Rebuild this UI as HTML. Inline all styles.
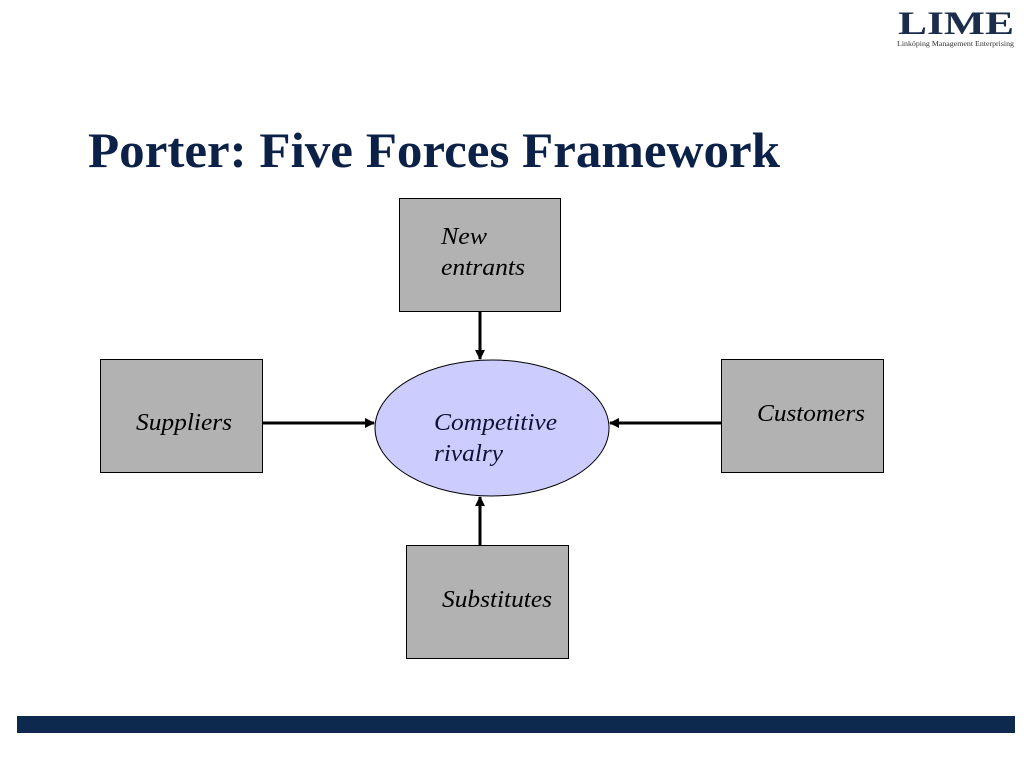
<!DOCTYPE html>
<html><head><meta charset="utf-8"><style>
body{margin:0;width:1024px;height:768px;background:#fff;overflow:hidden;position:relative;font-family:"Liberation Serif",serif}
</style></head><body>
<svg width="1024" height="768" style="position:absolute;left:0;top:0">
<defs><marker id="a" markerWidth="10" markerHeight="10" refX="9" refY="5" orient="auto" markerUnits="userSpaceOnUse"><path d="M0,0 L10,5 L0,10 z" fill="#000"/></marker></defs>
<text x="88" y="167" font-family="Liberation Serif,serif" font-weight="bold" font-size="50" fill="#0c2148" textLength="692" lengthAdjust="spacingAndGlyphs">Porter: Five Forces Framework</text>
<text x="898" y="34" font-family="Liberation Serif,serif" font-weight="bold" font-size="33" fill="#1c2d4c" textLength="116" lengthAdjust="spacingAndGlyphs">LIME</text>
<text x="897" y="46" font-family="Liberation Serif,serif" font-size="7" fill="#333" textLength="117" lengthAdjust="spacingAndGlyphs">Linköping Management Enterprising</text>
<g fill="#b2b2b2" stroke="#000" stroke-width="1">
<rect x="399.5" y="198.5" width="161" height="113"/>
<rect x="100.5" y="359.5" width="162" height="113"/>
<rect x="721.5" y="359.5" width="162" height="113"/>
<rect x="406.5" y="545.5" width="162" height="113"/>
</g>
<ellipse cx="492" cy="428" rx="117" ry="68" fill="#ccccff" stroke="#000" stroke-width="1"/>
<g stroke="#000" stroke-width="3" marker-end="url(#a)">
<line x1="480" y1="312" x2="480" y2="359"/>
<line x1="263" y1="423" x2="374" y2="423"/>
<line x1="721" y1="423" x2="610" y2="423"/>
<line x1="480" y1="545" x2="480" y2="497"/>
</g>
<g font-family="Liberation Serif,serif" font-style="italic" font-size="24" fill="#000">
<text x="441" y="244" textLength="46" lengthAdjust="spacingAndGlyphs">New</text>
<text x="441" y="275" textLength="84" lengthAdjust="spacingAndGlyphs">entrants</text>
<text x="136" y="430" textLength="96" lengthAdjust="spacingAndGlyphs">Suppliers</text>
<text x="757" y="421" textLength="108" lengthAdjust="spacingAndGlyphs">Customers</text>
<text x="442" y="607" textLength="110" lengthAdjust="spacingAndGlyphs">Substitutes</text>
<text x="434" y="430" fill="#111133" textLength="123" lengthAdjust="spacingAndGlyphs">Competitive</text>
<text x="434" y="461" fill="#111133" textLength="69" lengthAdjust="spacingAndGlyphs">rivalry</text>
</g>
<rect x="17" y="716" width="998" height="17" fill="#0d2a4e"/>
</svg>
</body></html>
